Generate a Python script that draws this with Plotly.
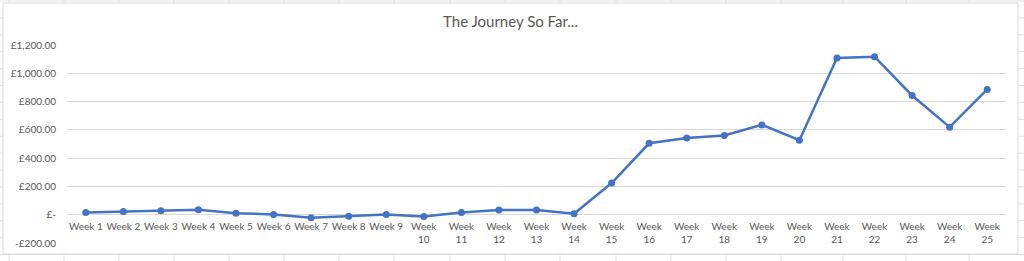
import plotly.graph_objects as go

weeks = [f"Week {i}" for i in range(1, 26)]
week_labels = [w if i < 9 else w.replace(" ", "<br>") for i, w in enumerate(weeks)]
values = [16, 23, 28, 35, 11, 2, -21, -10, 2, -12, 16, 33, 33, 7, 224,
          505, 543, 560, 635, 527, 1108, 1117, 843, 619, 886]
y_tickvals = [-200, 0, 200, 400, 600, 800, 1000, 1200]
y_ticktext = ["-£200.00", "£-", "£200.00", "£400.00", "£600.00", "£800.00", "£1,000.00", "£1,200.00"]

W, H = 1024, 261
L, R, T, B = 67, 18, 45, 18
PW, PH = W - L - R, H - T - B

def fx(px):
    return (px - L) / PW

def fy(py):
    return (H - B - py) / PH

shapes = []
sheet_col = "#E1E1E1"
for x in [9, 64, 119, 174, 229, 284, 339, 394, 450, 505, 560, 616, 671, 726, 781, 843, 906, 969]:
    shapes.append(dict(type="line", xref="paper", yref="paper", x0=fx(x), x1=fx(x), y0=fy(0), y1=fy(H),
                       line=dict(color=sheet_col, width=1), layer="below"))
for k in range(0, 17):
    y = 1 + 16.9 * k
    shapes.append(dict(type="line", xref="paper", yref="paper", x0=fx(0), x1=fx(W), y0=fy(y), y1=fy(y),
                       line=dict(color=sheet_col, width=1), layer="below"))
shapes.append(dict(type="rect", xref="paper", yref="paper", x0=fx(3), x1=fx(1018), y0=fy(254), y1=fy(3),
                   fillcolor="white", line=dict(color="#D9D9D9", width=1), layer="below"))

fig = go.Figure()
fig.add_trace(go.Scatter(
    x=weeks, y=values, mode="lines+markers",
    line=dict(color="#4472C4", width=2.5),
    marker=dict(color="#4472C4", size=7),
    hoverinfo="skip",
))

fig.update_layout(
    width=W, height=H,
    margin=dict(l=L, r=R, t=T, b=B, pad=0),
    paper_bgcolor="white",
    plot_bgcolor="rgba(0,0,0,0)",
    showlegend=False,
    shapes=shapes,
    font=dict(family="Lato", color="#595959", size=10),
    title=dict(text="The Journey So Far...", x=510.5 / W, xref="container", xanchor="center",
               y=1 - 22 / H, yref="container", yanchor="middle",
               font=dict(family="Lato", size=15, color="#595959")),
    xaxis=dict(
        type="category", categoryorder="array", categoryarray=weeks,
        tickmode="array", tickvals=weeks, ticktext=week_labels,
        showgrid=False, zeroline=False, showline=False, ticks="",
        anchor="free", position=200 / 1400, ticklabelstandoff=4,
        tickangle=0, range=[-0.5, 24.5],
        tickfont=dict(family="Lato", size=10, color="#595959"),
    ),
    yaxis=dict(
        range=[-200, 1200], tickmode="array", tickvals=y_tickvals, ticktext=y_ticktext,
        showgrid=True, gridcolor="#D9D9D9", gridwidth=1,
        zeroline=False, showline=False, ticks="", ticklabelstandoff=10,
        tickfont=dict(family="Lato", size=10, color="#595959"),
    ),
)

fig.write_html("out.html")
